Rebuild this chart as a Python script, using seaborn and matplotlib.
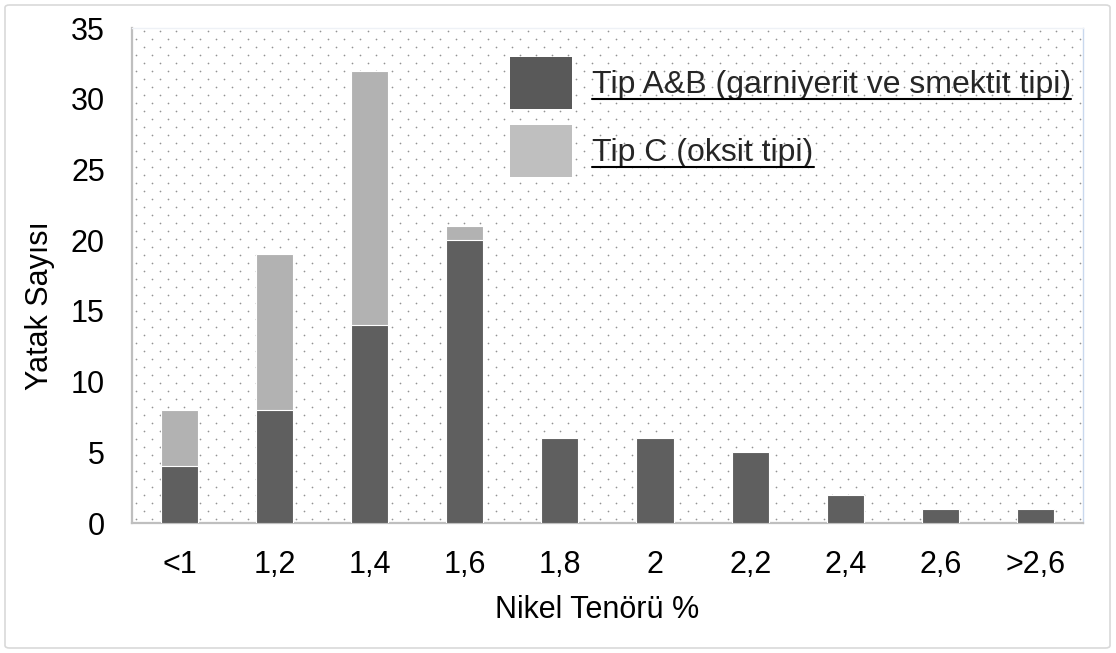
import numpy as np
import pandas as pd
import matplotlib
matplotlib.use("Agg")
import matplotlib.pyplot as plt
from matplotlib.patches import Patch, FancyBboxPatch
from matplotlib.lines import Line2D
import seaborn as sns

# Nickel grade classes and deposit counts
categories = ["<1", "1,2", "1,4", "1,6", "1,8", "2", "2,2", "2,4", "2,6", ">2,6"]
tip_ab = [4, 8, 14, 20, 6, 6, 5, 2, 1, 1]
tip_c = [4, 11, 18, 1, 0, 0, 0, 0, 0, 0]
y_ticks = [0, 5, 10, 15, 20, 25, 30, 35]

label_ab = "Tip A&B (garniyerit ve smektit tipi)"
label_c = "Tip C (oksit tipi)"

df = pd.DataFrame({"grade": categories, "ab": tip_ab, "c": tip_c})
df["total"] = df["ab"] + df["c"]

sns.set_theme(style="white")
plt.rcParams["font.family"] = ["Liberation Sans", "DejaVu Sans"]

FS = 22
FS_LEG = 23
DARK = "#5f5f5f"
LIGHT = "#b2b2b2"

fig = plt.figure(figsize=(11.16, 6.53), dpi=100)
fig.patch.set_facecolor("white")
ax = fig.add_axes([0.1183, 0.199, 0.9704 - 0.1183, 0.957 - 0.199])

# dotted background texture of the plot area
W, H = 951, 495
rows = np.arange(4, H, 8)
xs, ys = [], []
for i, r in enumerate(rows):
    start = 4 if i % 2 == 0 else 12
    cols = np.arange(start, W, 16)
    xs.extend(cols / W)
    ys.extend([r / H] * len(cols))
ax.scatter(xs, ys, s=1.5, color="#939393", linewidths=0,
           transform=ax.transAxes, zorder=0.5, clip_on=True)

# stacked bars: total (light) then Tip A&B (dark) over it
sns.barplot(data=df, x="grade", y="total", order=categories, color=LIGHT,
            saturation=1, width=0.39, edgecolor="white", linewidth=0.8,
            ax=ax, zorder=2)
sns.barplot(data=df, x="grade", y="ab", order=categories, color=DARK,
            saturation=1, width=0.39, edgecolor="white", linewidth=0.8,
            ax=ax, zorder=3)

ax.set_xlim(-0.5, len(categories) - 0.5)
ax.set_ylim(0, 35)
ax.set_yticks(y_ticks)
ax.set_yticklabels([str(t) for t in y_ticks])
ax.tick_params(axis="both", length=0, labelsize=FS, labelcolor="black")
ax.tick_params(axis="x", pad=19.5)
ax.tick_params(axis="y", pad=19.5)

ax.set_xlabel("Nikel Tenörü %", fontsize=FS, color="black")
ax.set_ylabel("Yatak Sayısı", fontsize=FS, color="black")
ax.xaxis.set_label_coords(0.489, -0.146)
ax.yaxis.set_label_coords(-0.081, 0.44)

ax.set_facecolor("white")
for side in ["left", "bottom"]:
    ax.spines[side].set_color("#bfbfbf")
    ax.spines[side].set_linewidth(1.6)
ax.spines["top"].set_color("#eef1f6")
ax.spines["top"].set_linewidth(1.0)
ax.spines["right"].set_color("#c9d8ee")
ax.spines["right"].set_linewidth(1.0)

handles = [Patch(facecolor="#595959", edgecolor="none", label=label_ab),
           Patch(facecolor="#bfbfbf", edgecolor="none", label=label_c)]
leg = ax.legend(handles=handles, loc="upper left",
                bbox_to_anchor=(0.397, 0.941), frameon=False, fontsize=FS_LEG,
                handlelength=1.97, handleheight=2.12, handletextpad=0.62,
                labelspacing=0.5, borderpad=0, borderaxespad=0)

# outer frame of the figure
fig.patches.append(FancyBboxPatch((5 / 1116, 5 / 653), 1105 / 1116, 643 / 653,
                                  boxstyle="round,pad=0,rounding_size=0.004",
                                  transform=fig.transFigure, fill=False,
                                  edgecolor="#d9d9d9", linewidth=1.2))

# underline the legend labels
fig.canvas.draw()
renderer = fig.canvas.get_renderer()
for txt in leg.get_texts():
    bb = txt.get_window_extent(renderer)
    y = bb.y0 + 1
    fig.add_artist(Line2D([bb.x0 / 1116, bb.x1 / 1116], [y / 653, y / 653],
                          transform=fig.transFigure, color="black",
                          linewidth=1.5))

fig.savefig("out.png", dpi=100)
